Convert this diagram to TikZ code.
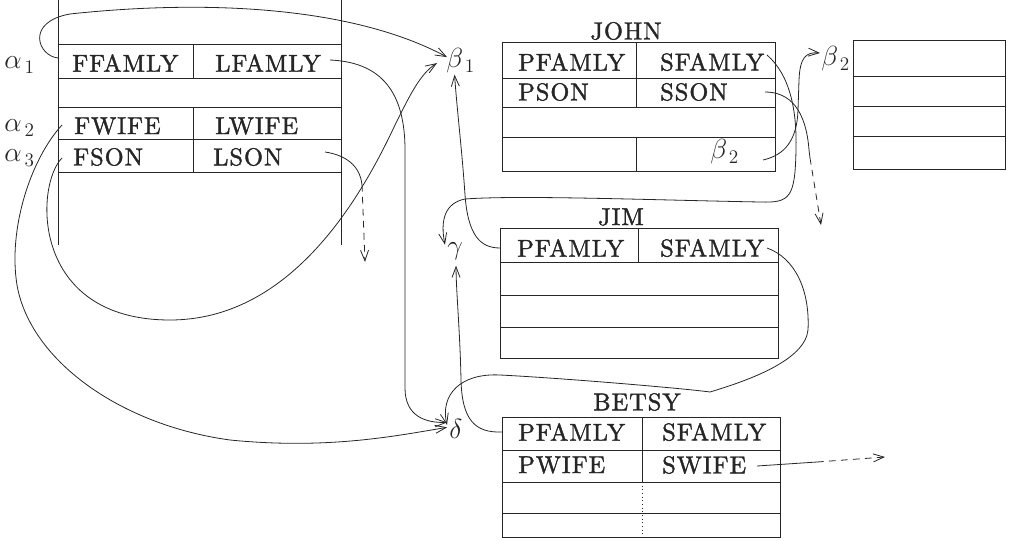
\documentclass[tikz,border=0pt]{standalone}
\usepackage{fontspec}
\usetikzlibrary{arrows.meta}
\definecolor{ink}{gray}{0.15}
\newfontfamily\fieldfam{lmroman10-regular}[Extension=.otf,LetterSpace=4,FakeBold=1.5]
\newcommand\fieldfont{\fieldfam\fontsize{18.3}{22}\selectfont}
\newcommand\greekfont{\fontsize{20.74}{24}\selectfont}
\tikzset{
  box/.style={draw=ink,line width=0.75pt},
  field/.style={anchor=west,inner sep=0pt,text=ink,font=\fieldfont},
  title/.style={inner sep=0pt,text=ink,font=\fieldfont},
  glab/.style={anchor=base west,inner sep=0pt,text=ink,font=\greekfont},
  link/.style={draw=ink,line width=0.6pt},
  arr/.style={link,-{Straight Barb[length=8pt,width=6pt]}},
  dashlink/.style={link,dash pattern=on 5pt off 4pt},
}
\begin{document}
\begin{tikzpicture}[x=0.75pt,y=-0.75pt]
\useasboundingbox (0,0) rectangle (1010,541);

% ---------- left box ----------
\draw[box] (58,0) -- (58,245) (341,0) -- (341,245);
\foreach \yy in {45,79,108,140,173} \draw[box] (58,\yy) -- (341,\yy);
\draw[box] (193,45) -- (193,79) (193,108) -- (193,173);
\node[field] (ff) at (72,63) {FFAMLY};
\node[field] (lf) at (215,63) {LFAMLY};
\node[field] (fw) at (74,126) {FWIFE};
\node[field] (lw) at (215,126) {LWIFE};
\node[field] (fs) at (73,157) {FSON};
\node[field] (ls) at (213,157) {LSON};
\node[glab] (a1) at (4,69) {$\alpha_{\,1}$};
\node[glab] (a2) at (4,132) {$\alpha_{\,2}$};
\node[glab] (a3) at (4,162) {$\alpha_{\,3}$};

% ---------- JOHN ----------
\node[title] (tjohn) at (626,31) {JOHN};
\draw[box] (502,43) rectangle (775,172);
\foreach \yy in {79,108,138} \draw[box] (502,\yy) -- (775,\yy);
\draw[box] (636,43) -- (636,108) (636,138) -- (636,172);
\node[field] (jpf) at (518,62) {PFAMLY};
\node[field] (jsf) at (660,62) {SFAMLY};
\node[field] (jps) at (518,92) {PSON};
\node[field] (jss) at (660,92) {SSON};
\node[glab] (b2a) at (710,159) {$\beta_{\,2}$};
\node[glab] (b1) at (446,68) {$\beta_{\,1}$};

% ---------- right box ----------
\draw[box] (853,41) rectangle (1005,170);
\foreach \yy in {77,107,137} \draw[box] (853,\yy) -- (1005,\yy);
\node[glab] (b2b) at (821,66) {$\beta_{\,2}$};

% ---------- JIM ----------
\node[title] (tjim) at (621,217) {JIM};
\draw[box] (500,229) rectangle (778,359);
\foreach \yy in {263,296,328} \draw[box] (500,\yy) -- (778,\yy);
\draw[box] (638,229) -- (638,263);
\node[field] (mpf) at (517,248) {PFAMLY};
\node[field] (msf) at (660,248) {SFAMLY};
\node[glab] (g) at (447,255) {$\gamma$};

% ---------- BETSY ----------
\node[title] (tbetsy) at (637,402) {BETSY};
\draw[box] (502,417) rectangle (780,537);
\foreach \yy in {450,482,513} \draw[box] (502,\yy) -- (780,\yy);
\draw[box] (642,417) -- (642,482);
\draw[box,dotted] (642,482) -- (642,537);
\node[field] (bpf) at (518,432) {PFAMLY};
\node[field] (bsf) at (662,432) {SFAMLY};
\node[field] (bpw) at (518,465) {PWIFE};
\node[field] (bsw) at (662,465) {SWIFE};
\node[glab] (d) at (449,438) {$\delta$};

% ---------- free ends ----------
\coordinate (lsE) at (365,262);
\coordinate (jssE) at (821,225);
\coordinate (bswE) at (885,457);

% ---------- connectors ----------
% FFAMLY loop -> beta1
\draw[arr] ([shift={(-14,-5)}]ff.west) .. controls (38,56) and (25,22) .. (70,14)
  .. controls (200,0) and (350,5) .. ([shift={(1,-4)}]b1.west);
% LFAMLY -> delta
\draw[arr] ([shift={(115,-3)}]lf.west) .. controls (375,62) and (405,85) .. (405,150)
  -- (405,388) .. controls (405,416) and (425,423) .. ([shift={(-2,-6)}]d.west);
% FSON -> beta1
\draw[arr] ([shift={(-11,1)}]fs.west) .. controls (35,185) and (30,320) .. (170,320)
  .. controls (290,320) and (360,200) .. (395,125)
  .. controls (410,95) and (420,74) .. ([shift={(-9,2)}]b1.west);
% FWIFE -> delta
\draw[arr] ([shift={(-12,-1)}]fw.west) .. controls (30,160) and (8,230) .. (17,285)
  .. controls (30,360) and (120,425) .. (230,440)
  .. controls (330,450) and (400,435) .. ([shift={(-2,-1)}]d.west);
% LSON -> (dashed)
\draw[link] ([shift={(112,-5)}]ls.west) .. controls (345,155) and (360,165) .. (362,185) coordinate (lsM);
\draw[dashlink,-{Straight Barb[length=8pt,width=6pt]}] (lsM) -- (lsE);
% JIM PFAMLY -> beta1
\draw[arr] ([shift={(-17,0)}]mpf.west) .. controls (480,248) and (468,235) .. (465,195)
  .. controls (462,150) and (457,110) .. ([shift={(-6,1)}]b1.south);
% JOHN SFAMLY -> gamma
\draw[arr] ([shift={(107,-7)}]jsf.west) .. controls (790,75) and (797,110) .. (796,150)
  .. controls (795,198) and (790,203) .. (760,202)
  .. controls (650,200) and (520,195) .. (465,199)
  .. controls (445,203) and (440,220) .. ([shift={(-2,-7)}]g.west);
% JOHN SSON -> (dashed)
\draw[link] ([shift={(105,0)}]jss.west) .. controls (790,92) and (806,110) .. (809,150) -- (810,158) coordinate (jssM);
\draw[dashlink,-{Straight Barb[length=8pt,width=6pt]}] (jssM) -- (jssE);
% beta2 (JOHN) -> beta2
\draw[arr] ([shift={(53,1)}]b2a.base west) .. controls (785,155) and (797,140) .. (798,110)
  -- (799,80) .. controls (800,57) and (806,52) .. ([shift={(-1,-13)}]b2b.base west);
% JIM SFAMLY -> delta
\draw[arr] ([shift={(107,0)}]msf.west) .. controls (795,258) and (810,290) .. (808,330)
  .. controls (805,360) and (750,380) .. (710,392)
  .. controls (680,388) and (560,378) .. (500,375)
  .. controls (460,373) and (440,395) .. ([shift={(-2,-13)}]d.base west);
% BETSY PFAMLY -> gamma
\draw[arr] ([shift={(-16,0)}]bpf.west) .. controls (475,433) and (462,420) .. (461,380)
  .. controls (460,330) and (456,290) .. ([shift={(1,5)}]g.south);
% SWIFE -> (dashed)
\draw[link] ([shift={(95,1)}]bsw.west) -- (817,462) coordinate (bswM);
\draw[dashlink,-{Straight Barb[length=8pt,width=6pt]}] (bswM) -- (bswE);
\end{tikzpicture}
\end{document}
